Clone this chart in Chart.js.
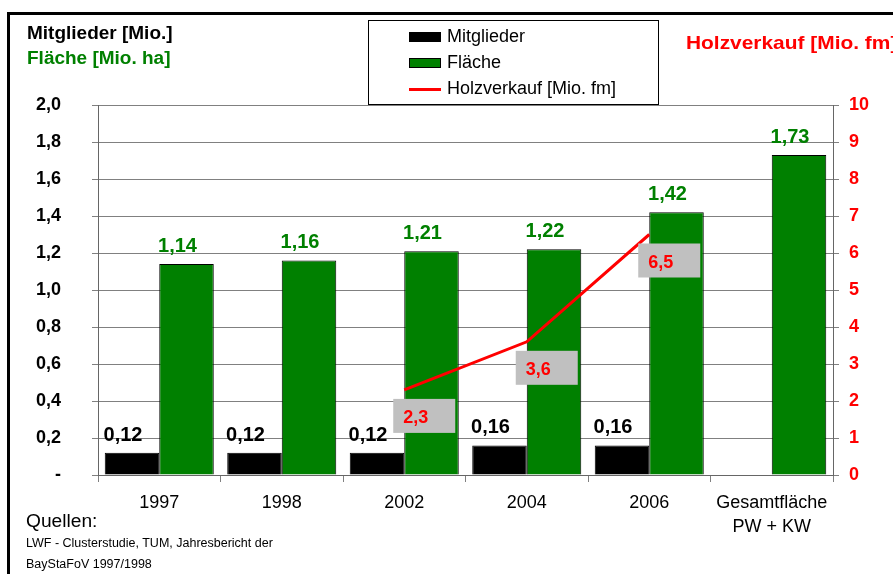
<!DOCTYPE html>
<html>
<head>
<meta charset="utf-8">
<script src="https://cdn.jsdelivr.net/npm/chart.js@4/dist/chart.umd.min.js"></script>
<style>
  html, body { margin:0; padding:0; width:893px; height:574px; overflow:hidden; background:#fff; font-family:"Liberation Sans", Arial, sans-serif; }
  #wrap { position:relative; width:893px; height:574px; overflow:hidden; }
  #frame { position:absolute; left:7px; top:12px; width:1000px; height:1000px; border:3px solid #000; box-sizing:border-box; pointer-events:none; }
  canvas { position:absolute; left:0; top:0; }
  .txt { position:absolute; white-space:nowrap; line-height:1; transform-origin:0 0; }
  #legend { position:absolute; left:368px; top:20px; width:291px; height:85px; border:1px solid #000; background:#fff; box-sizing:border-box; }
  .li { position:absolute; left:78px; font-size:18px; line-height:1; color:#000; white-space:nowrap; }
  .sw { position:absolute; left:40px; width:32px; box-sizing:border-box; }
</style>
</head>
<body>
<div id="wrap">
  <canvas id="c" width="893" height="574"></canvas>
  <div id="frame"></div>
  <div class="txt" style="left:27px; top:24.3px; font-size:18px; font-weight:bold; color:#000; transform:scaleX(1.055);">Mitglieder [Mio.]</div>
  <div class="txt" style="left:27px; top:49.3px; font-size:18px; font-weight:bold; color:#008000; transform:scaleX(1.055);">Fläche [Mio. ha]</div>
  <div class="txt" style="left:686px; top:32.5px; font-size:19px; font-weight:bold; color:#ff0000; transform:scaleX(1.1);">Holzverkauf [Mio. fm]</div>
  <div id="legend"></div>
  <div class="txt" style="left:26px; top:511.8px; font-size:18px; color:#000; transform:scaleX(1.065);">Quellen:</div>
  <div class="txt" style="left:26px; top:537.4px; font-size:12.5px; color:#000;">LWF - Clusterstudie, TUM, Jahresbericht der</div>
  <div class="txt" style="left:26px; top:558.4px; font-size:12.5px; color:#000;">BayStaFoV 1997/1998</div>
</div>
<script>
const categories = ['1997', '1998', '2002', '2004', '2006', ['Gesamtfläche', 'PW + KW']];
const mitglieder = [0.12, 0.12, 0.12, 0.16, 0.16, null];
const flaeche = [1.14, 1.16, 1.21, 1.22, 1.42, 1.73];
const holzverkauf = [null, null, 2.3, 3.6, 6.5, null];
const seriesNames = ['Mitglieder', 'Fläche', 'Holzverkauf [Mio. fm]'];

const fmt = (v, d) => v.toFixed(d).replace('.', ',');
const FONT = '"Liberation Sans", Arial, sans-serif';

const labelsPlugin = {
  id: 'valueLabels',
  afterDatasetsDraw(chart) {
    const ctx = chart.ctx;
    ctx.save();
    ctx.textBaseline = 'alphabetic';
    // bar labels
    [[0, '#000000'], [1, '#008000']].forEach(([di, col]) => {
      const meta = chart.getDatasetMeta(di);
      const data = chart.data.datasets[di].data;
      meta.data.forEach((el, i) => {
        if (data[i] == null) return;
        ctx.font = 'bold 20px ' + FONT;
        ctx.fillStyle = col;
        ctx.textAlign = 'center';
        ctx.fillText(fmt(data[i], 2), el.x - 9, el.y - 12);
      });
    });
    // line labels
    const meta = chart.getDatasetMeta(2);
    const data = chart.data.datasets[2].data;
    meta.data.forEach((el, i) => {
      if (data[i] == null) return;
      const bx = el.x - 11, by = el.y + 9;
      ctx.fillStyle = '#c0c0c0';
      ctx.fillRect(bx, by, 62, 34);
      ctx.font = 'bold 18px ' + FONT;
      ctx.fillStyle = '#ff0000';
      ctx.textAlign = 'left';
      ctx.fillText(fmt(data[i], 1), bx + 10, by + 24);
    });
    ctx.restore();
  }
};

const chart = new Chart(document.getElementById('c'), {
  data: {
    labels: categories,
    datasets: [
      { type: 'bar', label: seriesNames[0], data: mitglieder, backgroundColor: '#000000', borderColor: '#000000', borderWidth: 1, yAxisID: 'y', order: 2 },
      { type: 'bar', label: seriesNames[1], data: flaeche, backgroundColor: '#008000', borderColor: '#000000', borderWidth: 1, yAxisID: 'y', order: 2 },
      { type: 'line', label: seriesNames[2], data: holzverkauf, borderColor: '#ff0000', backgroundColor: '#ff0000', borderWidth: 3, pointRadius: 0, tension: 0, yAxisID: 'y2', order: 1 }
    ]
  },
  options: {
    responsive: false,
    animation: false,
    devicePixelRatio: 1,
    layout: { padding: { top: 105, left: 0, right: 0, bottom: 0 } },
    datasets: { bar: { categoryPercentage: 0.89, barPercentage: 1.0 } },
    plugins: { legend: { display: false }, tooltip: { enabled: false }, title: { display: false } },
    scales: {
      x: {
        grid: { offset: true, drawOnChartArea: false, drawTicks: true, tickLength: 7, color: '#808080' },
        border: { color: '#666666', width: 1 },
        ticks: { color: '#000', font: { family: FONT, size: 18, lineHeight: 1.33 }, padding: 9, maxRotation: 0, autoSkip: false },
        afterFit(s) { s.height = 574 - 475; }
      },
      y: {
        position: 'left', min: 0, max: 2,
        grid: { color: '#808080', tickLength: 6 },
        border: { color: '#666666', width: 1 },
        ticks: { stepSize: 0.2, color: '#000', font: { family: FONT, size: 18, weight: 'bold' }, padding: 31,
          callback: (v) => Math.abs(v) < 1e-9 ? '-' : fmt(v, 1) },
        afterFit(s) { s.width = 98; }
      },
      y2: {
        position: 'right', min: 0, max: 10,
        grid: { drawOnChartArea: false, color: '#808080', tickLength: 6 },
        border: { color: '#666666', width: 1 },
        ticks: { stepSize: 1, color: '#ff0000', font: { family: FONT, size: 18, weight: 'bold' }, padding: 10 },
        afterFit(s) { s.width = 893 - 833; }
      }
    }
  },
  plugins: [labelsPlugin]
});

// legend built from datasets
const leg = document.getElementById('legend');
const baselines = [42, 68, 94];
chart.data.datasets.forEach((ds, i) => {
  const b = baselines[i] - 21; // relative to legend padding box
  const sw = document.createElement('div');
  sw.className = 'sw';
  if (ds.type === 'line') {
    sw.style.top = (b - 6) + 'px';
    sw.style.height = '3px';
    sw.style.background = ds.borderColor;
  } else {
    sw.style.top = (b - 10) + 'px';
    sw.style.height = '10px';
    sw.style.background = ds.backgroundColor;
    sw.style.border = '1px solid #000';
  }
  leg.appendChild(sw);
  const t = document.createElement('div');
  t.className = 'li';
  t.style.top = (b - 0.8465 * 18) + 'px';
  t.textContent = ds.label;
  leg.appendChild(t);
});
</script>
</body>
</html>
